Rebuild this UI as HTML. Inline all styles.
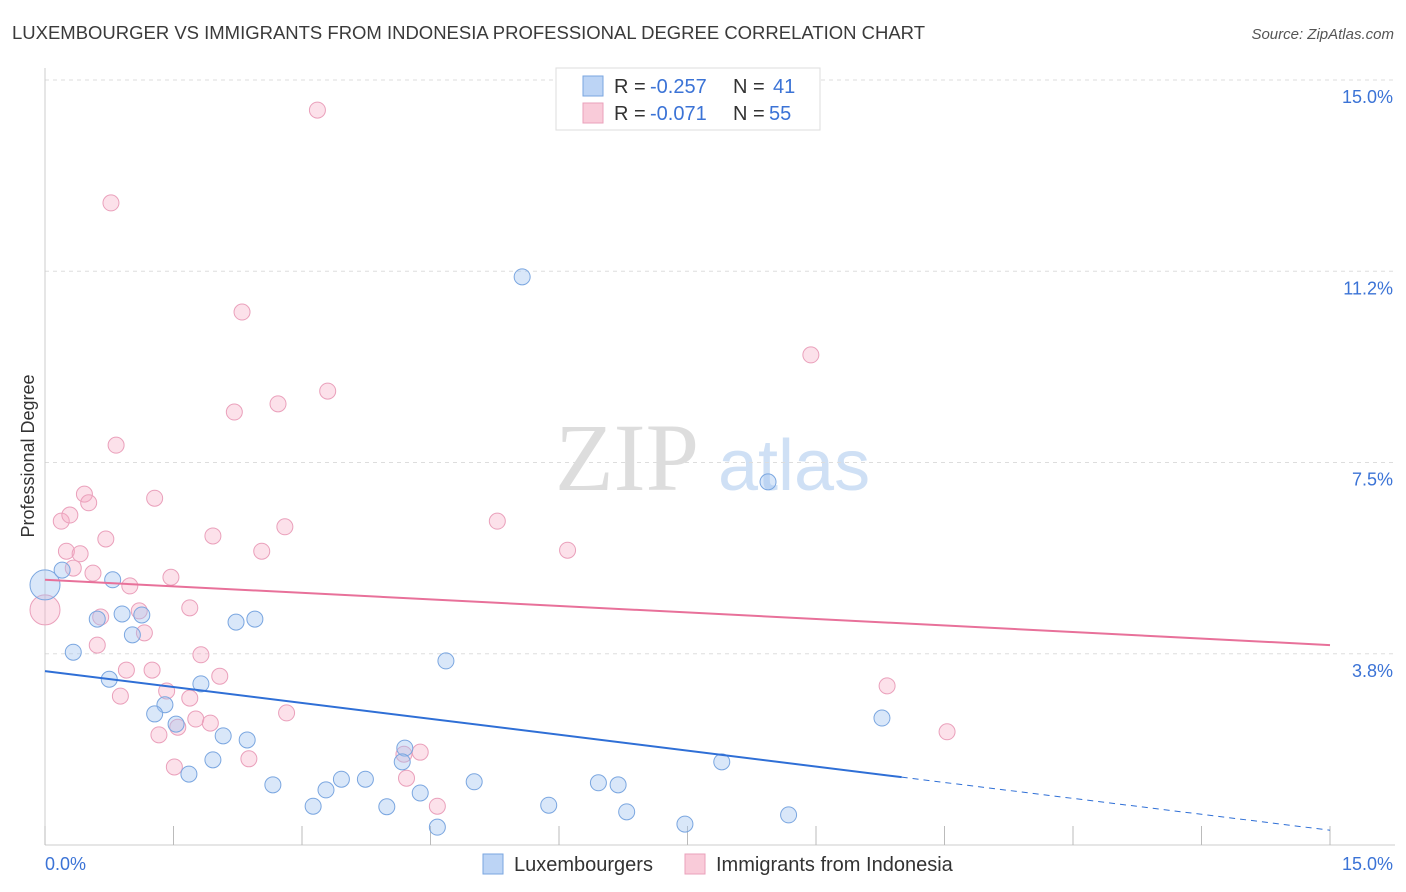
<!DOCTYPE html>
<html><head><meta charset="utf-8"><style>
body{margin:0;background:#fff;font-family:"Liberation Sans",sans-serif;}
#wrap{position:relative;width:1406px;height:892px;overflow:hidden;}
</style></head><body>
<div id="wrap">
<svg id="svg" width="1406" height="892">
<text x="12" y="39" font-size="18" fill="#3a3a3a" textLength="913" lengthAdjust="spacingAndGlyphs">LUXEMBOURGER VS IMMIGRANTS FROM INDONESIA PROFESSIONAL DEGREE CORRELATION CHART</text>
<text x="1394" y="39" font-size="15" fill="#555" font-style="italic" text-anchor="end">Source: ZipAtlas.com</text>
<text x="34" y="456" font-size="18" fill="#333" text-anchor="middle" transform="rotate(-90 34 456)">Professional Degree</text>
<text x="555" y="490" font-size="96" fill="#ddd" font-family="Liberation Serif">ZIP</text>
<text x="718" y="490" font-size="72" fill="#cfe0f5">atlas</text>
<g id="grid"></g><g id="pts"></g><g id="trend"></g>
<g>
<rect x="556" y="68" width="264" height="62" fill="#fff" stroke="#ddd"/>
<rect x="583" y="76" width="20" height="20" fill="#bcd4f5" stroke="#7aa6e0"/>
<text x="614" y="93" font-size="20" fill="#333">R =</text>
<text x="650" y="93" font-size="20" fill="#3b73d6">-0.257</text>
<text x="733" y="93" font-size="20" fill="#333">N =</text>
<text x="773" y="93" font-size="20" fill="#3b73d6">41</text>
<rect x="583" y="103" width="20" height="20" fill="#f9cbd9" stroke="#eaa0bb"/>
<text x="614" y="120" font-size="20" fill="#333">R =</text>
<text x="650" y="120" font-size="20" fill="#3b73d6">-0.071</text>
<text x="733" y="120" font-size="20" fill="#333">N =</text>
<text x="769" y="120" font-size="20" fill="#3b73d6">55</text>
</g>
<g>
<rect x="483" y="854" width="20" height="20" fill="#bcd4f5" stroke="#7aa6e0"/>
<text x="514" y="871" font-size="20" fill="#333">Luxembourgers</text>
<rect x="685" y="854" width="20" height="20" fill="#f9cbd9" stroke="#eaa0bb"/>
<text x="716" y="871" font-size="20" fill="#333">Immigrants from Indonesia</text>
</g>
</svg></div>
<script>
const yTicks=[3.75,7.5,11.25,15];
const yTickLabels=["3.8%","7.5%","11.2%","15.0%"];
const blueX=[5.57,8.44,0,0.20,0.79,0.33,0.61,0.90,1.13,1.02,2.23,2.45,4.68,0.75,1.82,1.40,1.28,1.53,2.08,2.36,1.96,1.68,2.66,3.13,3.28,3.46,3.74,3.99,4.20,4.17,4.38,4.58,5.01,5.88,6.46,6.69,6.79,7.47,7.90,8.68,9.77];
const blueY=[11.14,7.12,5.10,5.39,5.20,3.78,4.43,4.53,4.51,4.12,4.37,4.43,3.61,3.25,3.16,2.75,2.57,2.37,2.14,2.06,1.67,1.39,1.18,0.76,1.08,1.29,1.29,0.75,1.90,1.63,1.02,0.35,1.24,0.78,1.22,1.18,0.65,0.41,1.63,0.59,2.49];
const pinkX=[3.18,0.77,2.30,8.94,3.30,2.72,2.21,0.83,0.46,1.28,0.51,0.19,0.29,5.28,2.80,1.96,0.71,0.25,0.41,2.53,6.10,0.33,0.56,1.47,0.99,0,1.69,1.10,0.65,1.16,0.61,1.82,0.95,1.25,2.04,1.42,1.69,0.88,9.83,2.82,1.76,1.93,1.55,1.33,10.53,2.38,4.38,4.19,1.51,4.22,4.58];
const pinkY=[14.41,12.59,10.45,9.61,8.90,8.65,8.49,7.84,6.88,6.80,6.71,6.35,6.47,6.35,6.24,6.06,6.00,5.76,5.71,5.76,5.78,5.43,5.33,5.25,5.08,4.61,4.65,4.59,4.47,4.16,3.92,3.73,3.43,3.43,3.31,3.02,2.88,2.92,3.12,2.59,2.47,2.39,2.31,2.16,2.22,1.69,1.82,1.78,1.53,1.31,0.76];
const blueTrend=[3.41,0.29], blueSolidEnd=10.0;
const pinkTrend=[5.20,3.92];
const X=v=>45+v/15*1285, Y=v=>845-v/15*765;
const NS="http://www.w3.org/2000/svg";
function mk(t,a,p){const e=document.createElementNS(NS,t);for(const k in a)e.setAttribute(k,a[k]);p.appendChild(e);return e;}
const g=document.getElementById('grid');
yTicks.forEach((t,i)=>{
 const l=mk('line',{x1:45,x2:1395,y1:Y(t),y2:Y(t),stroke:'#ddd','stroke-dasharray':'4,4'},g);
 
 
 const tx=mk('text',{x:1393,y:Y(t)+23,'font-size':18,fill:'#3b73d6','text-anchor':'end'},g);
 tx.textContent=yTickLabels[i];
 
 
});
mk('line',{x1:45,x2:45,y1:68,y2:845,stroke:'#ccc'},g);
mk('line',{x1:45,x2:1395,y1:845,y2:845,stroke:'#ccc'},g);
for(let i=0;i<=10;i++){const l=mk('line',{x1:X(i*1.5),x2:X(i*1.5),y1:826,y2:845,stroke:'#bbb'},g);
 
 }
let t0=mk('text',{x:45,y:870,'font-size':18,fill:'#3b73d6'},g);t0.textContent='0.0%';


let t1=mk('text',{x:1393,y:870,'font-size':18,fill:'#3b73d6','text-anchor':'end'},g);t1.textContent='15.0%';


const pg=document.getElementById('pts');
function pts(xs,ys,fill,stroke,name){xs.forEach((x,i)=>{
 const r=(x===0)?15:8;
 const c=mk('circle',{cx:X(x),cy:Y(ys[i]),r:r,fill:fill,stroke:stroke,'stroke-width':1},pg);
 
 
});}
pts(pinkX,pinkY,'rgba(245,170,195,0.35)','#eaa0bb','point-indonesia');
pts(blueX,blueY,'rgba(160,195,240,0.4)','#7aa6e0','point-luxembourger');
const tg=document.getElementById('trend');
const by=v=>blueTrend[0]+(blueTrend[1]-blueTrend[0])*v/15;
let a=mk('line',{x1:X(0),y1:Y(by(0)),x2:X(blueSolidEnd),y2:Y(by(blueSolidEnd)),stroke:'#2f6fd6','stroke-width':2},tg);


let b=mk('line',{x1:X(blueSolidEnd),y1:Y(by(blueSolidEnd)),x2:X(15),y2:Y(by(15)),stroke:'#2f6fd6','stroke-width':1,'stroke-dasharray':'6,5'},tg);


let c=mk('line',{x1:X(0),y1:Y(pinkTrend[0]),x2:X(15),y2:Y(pinkTrend[1]),stroke:'#e8719a','stroke-width':2},tg);


</script>
</body></html>
